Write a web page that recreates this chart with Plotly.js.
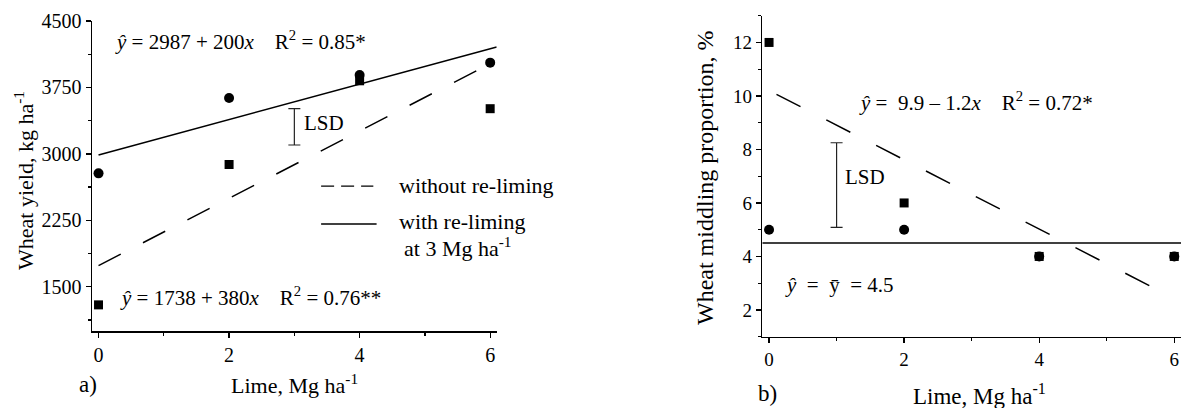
<!DOCTYPE html>
<html>
<head>
<meta charset="utf-8">
<script src="https://cdn.plot.ly/plotly-3.0.1.min.js"></script>
<style>
  html, body { margin: 0; padding: 0; background: #ffffff; }
  #chart { width: 1181px; height: 408px; }
</style>
</head>
<body>
<div id="chart"></div>
<script>
// ---------- Data: panel a) wheat yield ----------
const limeLevels = [0, 2, 4, 6];
const yieldWithReliming = [2780, 3630, 3890, 4030];     // circles
const yieldWithoutReliming = [1295, 2880, 3825, 3510];  // squares
const fitWithX = [0, 6.1];
const fitWithY = [2987, 4207];          // y = 2987 + 200x
const fitWithoutX = [0, 6];
const fitWithoutY = [1738, 4018];       // y = 1738 + 380x
const lsdAx = [3];
const lsdAlow = 3100;
const lsdAhigh = 3510;
const yTicksA = [1500, 2250, 3000, 3750, 4500];

// ---------- Data: panel b) wheat middling proportion ----------
const middlingWithReliming = [5, 5, 4, 4];     // circles
const middlingWithoutReliming = [12, 6, 4, 4]; // squares
const fitMeanX = [-0.1, 6.1];
const fitMeanY = [4.5, 4.5];            // y = mean = 4.5
const fitSlopeX = [0.11, 5.64];
const fitSlopeY = [10.06, 2.90];        // y = 9.9 - 1.2x
const lsdBx = [1];
const lsdBlow = 5.09;
const lsdBhigh = 8.25;
const xTicks = [0, 2, 4, 6];

const FONT = 'Liberation Serif, Times New Roman, serif';
const BLACK = '#000000';

const traces = [
  // panel a lines
  { x: fitWithoutX, y: fitWithoutY, xaxis: 'x', yaxis: 'y', mode: 'lines',
    line: { color: BLACK, width: 1.5, dash: '25px,25px' }, hoverinfo: 'skip' },
  { x: fitWithX, y: fitWithY, xaxis: 'x', yaxis: 'y', mode: 'lines',
    line: { color: BLACK, width: 1.5 }, hoverinfo: 'skip' },
  // panel a markers
  { x: limeLevels, y: yieldWithReliming, xaxis: 'x', yaxis: 'y', mode: 'markers',
    marker: { symbol: 'circle', size: 10, color: BLACK }, cliponaxis: false },
  { x: limeLevels, y: yieldWithoutReliming, xaxis: 'x', yaxis: 'y', mode: 'markers',
    marker: { symbol: 'square', size: 9, color: BLACK }, cliponaxis: false },
  // panel a LSD
  { x: lsdAx, y: [(lsdAlow + lsdAhigh) / 2], xaxis: 'x', yaxis: 'y', mode: 'markers',
    marker: { size: 1, color: 'rgba(0,0,0,0)' },
    error_y: { type: 'data', array: [(lsdAhigh - lsdAlow) / 2], symmetric: true,
               color: '#222222', thickness: 1.2, width: 6 } },

  // panel b lines
  { x: fitSlopeX, y: fitSlopeY, xaxis: 'x2', yaxis: 'y2', mode: 'lines',
    line: { color: BLACK, width: 1.5, dash: '27px,29px' }, hoverinfo: 'skip' },
  { x: fitMeanX, y: fitMeanY, xaxis: 'x2', yaxis: 'y2', mode: 'lines',
    line: { color: BLACK, width: 1.5 }, hoverinfo: 'skip' },
  // panel b markers
  { x: limeLevels, y: middlingWithReliming, xaxis: 'x2', yaxis: 'y2', mode: 'markers',
    marker: { symbol: 'circle', size: 10, color: BLACK }, cliponaxis: false },
  { x: limeLevels, y: middlingWithoutReliming, xaxis: 'x2', yaxis: 'y2', mode: 'markers',
    marker: { symbol: 'square', size: 9, color: BLACK }, cliponaxis: false },
  // panel b LSD
  { x: lsdBx, y: [(lsdBlow + lsdBhigh) / 2], xaxis: 'x2', yaxis: 'y2', mode: 'markers',
    marker: { size: 1, color: 'rgba(0,0,0,0)' },
    error_y: { type: 'data', array: [(lsdBhigh - lsdBlow) / 2], symmetric: true,
               color: '#222222', thickness: 1.2, width: 6 } }
];

const axisCommon = {
  showgrid: false, zeroline: false, showline: true, linecolor: BLACK, linewidth: 1.5,
  ticks: 'outside', ticklen: 5, tickwidth: 1.3, tickcolor: BLACK,
  tickfont: { family: FONT, size: 20, color: BLACK }, mirror: false, fixedrange: true
};

const nb = '\u00a0';
const eqA1 = '<i>ŷ</i> = 2987 + 200<i>x</i>' + nb.repeat(4) + 'R<sup>2</sup> = 0.85*';
const eqA2 = '<i>ŷ</i> = 1738 + 380<i>x</i>' + nb.repeat(4) + 'R<sup>2</sup> = 0.76**';
const eqB1 = '<i>ŷ</i> =' + nb + nb + '9.9 – 1.2<i>x</i>' + nb.repeat(4) + 'R<sup>2</sup> = 0.72*';
const eqB2 = '<i>ŷ</i>' + nb + nb + '=' + nb + nb + 'ȳ' + nb + nb + '= 4.5';

function ann(xref, yref, x, y, text, size, extra) {
  return Object.assign({ xref: xref, yref: yref, x: x, y: y, text: text, showarrow: false,
    xanchor: 'left', yanchor: 'middle', font: { family: FONT, size: size, color: BLACK } }, extra || {});
}

const annotations = [
  // panel a
  ann('x', 'y', 0.22, 4285, eqA1, 21),
  ann('x', 'y', 0.30, 1395, eqA2, 21),
  ann('x', 'y', 3.11, 3345, 'LSD', 21),
  ann('x', 'y', 4.57, 2648, 'without re-liming', 22),
  ann('x', 'y', 4.57, 2234, 'with re-liming', 22),
  ann('x', 'y', 4.65, 1948, 'at 3 Mg ha<sup>-1</sup>', 22),
  ann('paper', 'paper', 24 / 1181, 1 - 181 / 408, 'Wheat yield, kg ha<sup>-1</sup>', 22,
      { xanchor: 'center', textangle: -90 }),
  ann('paper', 'paper', 294 / 1181, 1 - 384 / 408, 'Lime, Mg ha<sup>-1</sup>', 22,
      { xanchor: 'center' }),
  ann('paper', 'paper', 88 / 1181, 1 - 384 / 408, 'a)', 23, { xanchor: 'center' }),
  // panel b
  ann('x2', 'y2', 1.30, 9.785, eqB1, 21),
  ann('x2', 'y2', 0.207, 2.93, eqB2, 21),
  ann('x2', 'y2', 1.095, 6.98, 'LSD', 21),
  ann('paper', 'paper', 705 / 1181, 1 - 178 / 408, 'Wheat middling proportion, %', 24,
      { xanchor: 'center', textangle: -90 }),
  ann('paper', 'paper', 980 / 1181, 1 - 394 / 408, 'Lime, Mg ha<sup>-1</sup>', 23,
      { xanchor: 'center' }),
  ann('paper', 'paper', 767 / 1181, 1 - 393 / 408, 'b)', 23, { xanchor: 'center' })
];

const shapes = [
  // legend samples (panel a)
  { type: 'line', xref: 'x', yref: 'y', x0: 3.41, x1: 4.21, y0: 2635, y1: 2635,
    line: { color: BLACK, width: 1.3, dash: '13px,7px' } },
  { type: 'line', xref: 'x', yref: 'y', x0: 3.41, x1: 4.26, y0: 2208, y1: 2208,
    line: { color: BLACK, width: 1.3 } }
];

const layout = {
  width: 1181, height: 408,
  margin: { l: 0, r: 0, t: 0, b: 0, pad: 0 },
  paper_bgcolor: '#ffffff', plot_bgcolor: '#ffffff',
  showlegend: false,
  font: { family: FONT, color: BLACK },
  xaxis: Object.assign({}, axisCommon, {
    domain: [92 / 1181, 496.7 / 1181], range: [-0.1, 6.1], anchor: 'y',
    tickmode: 'array', tickvals: xTicks,
    minor: { dtick: 1, tick0: 0, ticks: 'outside', ticklen: 3, tickwidth: 1.2, tickcolor: BLACK }
  }),
  yaxis: Object.assign({}, axisCommon, {
    domain: [1 - 331 / 408, 1 - 21 / 408], range: [1000, 4500], anchor: 'x',
    tick0: 0, dtick: 750, tickvals: yTicksA, tickmode: 'array',
    minor: { dtick: 375, tick0: 0, ticks: 'outside', ticklen: 3, tickwidth: 1.2, tickcolor: BLACK }
  }),
  xaxis2: Object.assign({}, axisCommon, {
    domain: [762.3 / 1181, 1], range: [-0.1, 6.1], anchor: 'y2',
    tickmode: 'array', tickvals: xTicks,
    tickfont: { family: FONT, size: 19, color: BLACK },
    minor: { dtick: 1, tick0: 0, ticks: 'outside', ticklen: 3, tickwidth: 1.2, tickcolor: BLACK }
  }),
  yaxis2: Object.assign({}, axisCommon, {
    domain: [1 - 336.7 / 408, 1 - 15.7 / 408], range: [1, 13], anchor: 'x2',
    tick0: 0, dtick: 2,
    tickfont: { family: FONT, size: 19, color: BLACK },
    minor: { dtick: 1, tick0: 0, ticks: 'outside', ticklen: 3, tickwidth: 1.2, tickcolor: BLACK }
  }),
  annotations: annotations,
  shapes: shapes
};

Plotly.newPlot('chart', traces, layout, { displayModeBar: false, staticPlot: true });
</script>
</body>
</html>
